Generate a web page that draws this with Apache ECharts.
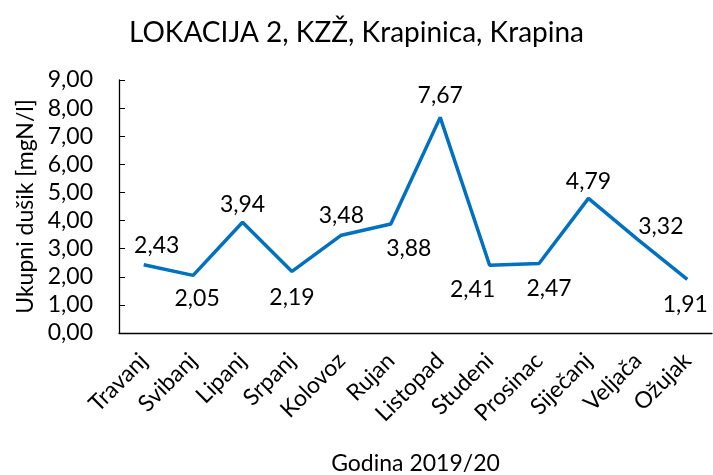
<!DOCTYPE html>
<html><head><meta charset="utf-8">
<script src="https://cdn.jsdelivr.net/npm/echarts@6/dist/echarts.min.js"></script>
<style>html,body{margin:0;padding:0;background:#fff}#c{width:713px;height:475px}</style>
</head><body><div id="c"></div>
<script>
const titleText = 'LOKACIJA 2, KZŽ, Krapinica, Krapina';
const yAxisName = 'Ukupni dušik [mgN/l]';
const xAxisName = 'Godina 2019/20';
const categories = ['Travanj','Svibanj','Lipanj','Srpanj','Kolovoz','Rujan','Listopad','Studeni','Prosinac','Siječanj','Veljača','Ožujak'];
const values = [2.43, 2.05, 3.94, 2.19, 3.48, 3.88, 7.67, 2.41, 2.47, 4.79, 3.32, 1.91];
const yTicks = [0, 1, 2, 3, 4, 5, 6, 7, 8, 9];
// label placement (layout, not data): offsets of label centre from the point
const labelOffsets = [[13,-19],[4,23],[0,-18],[0,26],[0,-20],[18,25],[0,-22],[-17,24],[10,25],[0,-17],[23,-13],[-2,25]];

const FONT = 'Lato';
const FS = 23;
const chart = echarts.init(document.getElementById('c'));
chart.setOption({
  animation: false,
  backgroundColor: '#fff',
  title: {text: titleText, left: 'center', top: 14,
    textStyle: {fontFamily: FONT, fontSize: 28, fontWeight: 'normal', color: '#000'}},
  grid: {left: 119, right: 1, top: 80, bottom: 142, containLabel: false, outerBoundsMode: 'none'},
  xAxis: {
    type: 'category', data: categories, boundaryGap: true,
    name: xAxisName, nameLocation: 'middle', nameGap: 119,
    nameTextStyle: {fontFamily: FONT, fontSize: FS, color: '#000'},
    axisLine: {lineStyle: {color: '#000', width: 1.3}},
    axisTick: {show: false},
    axisLabel: {rotate: 45, margin: 24, interval: 0, fontFamily: FONT, fontSize: FS, color: '#000'}
  },
  yAxis: {
    type: 'value', min: yTicks[0], max: yTicks[yTicks.length-1], interval: 1,
    name: yAxisName, nameLocation: 'middle', nameGap: 80,
    nameTextStyle: {fontFamily: FONT, fontSize: FS, color: '#000'},
    axisLine: {show: true, lineStyle: {color: '#000', width: 1.3}},
    axisTick: {show: true, inside: true, length: 6, lineStyle: {color: '#000'}},
    splitLine: {show: false},
    axisLabel: {margin: 26, fontFamily: FONT, fontSize: FS, color: '#000',
      formatter: v => v.toFixed(2).replace('.', ',')}
  },
  series: [{
    type: 'line',
    data: values.map((v, i) => ({value: v, label: {offset: labelOffsets[i]}})),
    symbol: 'circle', symbolSize: 0, showSymbol: true,
    lineStyle: {color: '#0070C0', width: 3.5},
    itemStyle: {color: '#0070C0'},
    label: {show: true, position: 'inside', align: 'center', verticalAlign: 'middle',
      fontFamily: FONT, fontSize: FS, color: '#000',
      formatter: p => p.value.toFixed(2).replace('.', ',')}
  }]
});
</script></body></html>
